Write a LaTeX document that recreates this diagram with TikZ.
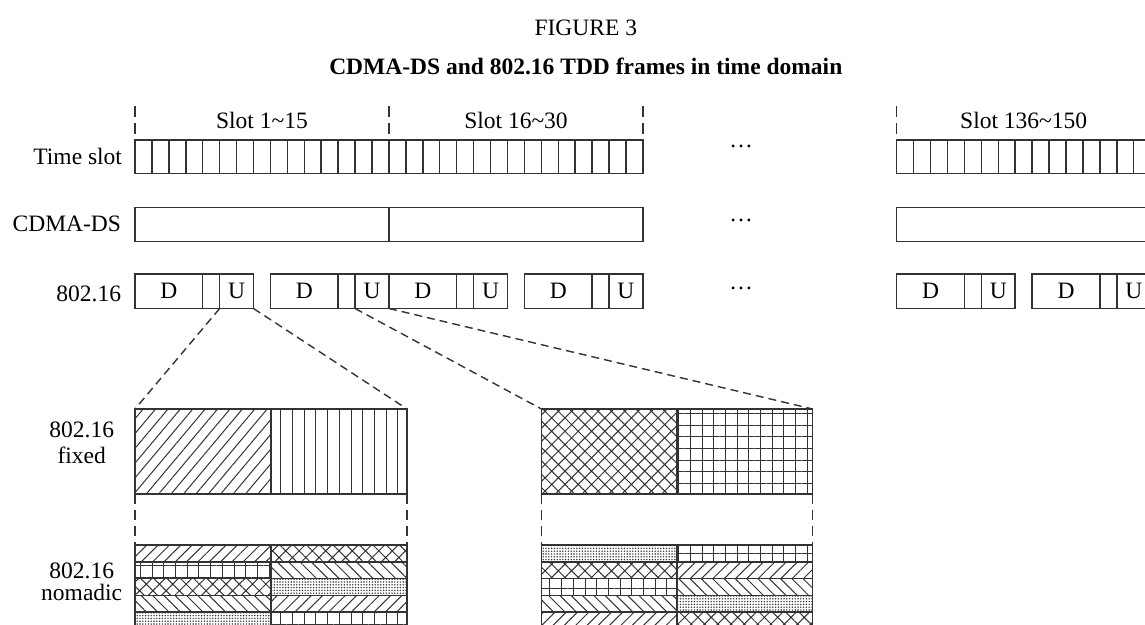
\documentclass[tikz,border=0pt]{standalone}
\usepackage{fontspec}
\setmainfont{Liberation Serif}
\usetikzlibrary{patterns.meta}
\definecolor{ink}{HTML}{333333}
\begin{document}
\begin{tikzpicture}[x=1pt,y=-1pt,
  every node/.style={font=\fontsize{23.5}{28}\selectfont, inner sep=0pt, outer sep=0pt, text=black},
  lbl/.style={anchor=base east},
  ctr/.style={anchor=base},
  boxcell/.style={draw=ink, line width=1.5pt, anchor=north west, rectangle},
  tickline/.style={draw=ink, line width=1.3pt, dash pattern=on 11pt off 6pt},
  zoomline/.style={draw=ink, line width=1.4pt, dash pattern=on 8pt off 5pt},
  vdash/.style={draw=ink, line width=1.4pt, dash pattern=on 10pt off 6pt},
  pNEf/.style={pattern={Lines[angle=50,distance=9.5pt,line width=1pt]}, pattern color=ink},
  pVL/.style={pattern={Lines[angle=90,distance=11.7pt,line width=1pt]}, pattern color=ink},
  pNE/.style={pattern={Lines[angle=45,distance=8pt,line width=1pt]}, pattern color=ink},
  pNW/.style={pattern={Lines[angle=-45,distance=8pt,line width=1pt]}, pattern color=ink},
  pGR/.style={pattern={Hatch[angle=0,distance=11.7pt,line width=1pt]}, pattern color=ink},
  pCH/.style={pattern={Hatch[angle=45,distance=9.4pt,line width=1pt]}, pattern color=ink},
  pDT/.style={pattern={Dots[distance=2.8pt,radius=0.8pt]}, pattern color=ink},
]
\useasboundingbox (0,0) rectangle (1145,624);
\clip (0,0) rectangle (1145,624);

% titles
\node[ctr] (t1) at (585.8,35) {FIGURE 3};
\node[ctr, font=\bfseries\fontsize{23.5}{28}\selectfont] (t2) at (585.8,74) {CDMA-DS and 802.16 TDD frames in time domain};

% row labels
\node[lbl] (lts) at (122,164) {Time slot};
\node[lbl] (lcd) at (121,231.7) {CDMA-DS};
\node[lbl] (l80) at (121,301.5) {802.16};
\node[ctr] (lf1) at (81.7,437) {802.16};
\node[ctr] (lf2) at (81.7,463) {fixed};
\node[ctr] (ln1) at (81.7,578) {802.16};
\node[ctr] (ln2) at (81.7,600) {nomadic};

% slot group labels and ticks
\node[ctr] (sl1) at (262,128) {Slot 1\textasciitilde 15};
\node[ctr] (sl2) at (516,128) {Slot 16\textasciitilde 30};
\node[ctr] (sl3) at (1023.7,128) {Slot 136\textasciitilde 150};
\foreach \x in {135,388.95,642.9,896.7}
  \draw[tickline] (\x,106) -- (\x,135);

% time slots
\foreach \g/\x in {0/135,1/388.95,2/896.7}{
  \foreach \i in {0,...,14}{
    \node[boxcell, minimum width=16.93pt, minimum height=33.5pt] (ts-\g-\i) at ({\x+\i*16.93},140) {};
  }
}

% CDMA-DS
\node[boxcell, minimum width=253.95pt, minimum height=34pt] (cd1) at (135,207.3) {};
\node[boxcell, minimum width=253.95pt, minimum height=34pt] (cd2) at (388.95,207.3) {};
\node[boxcell, minimum width=253.95pt, minimum height=34pt] (cd3) at (896.7,207.3) {};

% 802.16 frames
\foreach \g/\x in {0/135,1/388.95,2/896.7}{
  \foreach \f in {0,1}{
    \node[boxcell, minimum width=67.72pt, minimum height=34.5pt] (d-\g-\f) at ({\x+\f*8*16.93},274) {D};
    \node[boxcell, minimum width=16.93pt, minimum height=34.5pt] (g-\g-\f) at ({\x+\f*8*16.93+4*16.93},274) {};
    \node[boxcell, minimum width=33.86pt, minimum height=34.5pt] (u-\g-\f) at ({\x+\f*8*16.93+5*16.93},274) {U};
  }
}

% ellipses
\node (el1) at (741,146.7) {\textellipsis};
\node (el2) at (741,220.7) {\textellipsis};
\node (el3) at (741,288.3) {\textellipsis};

% 802.16 fixed
\node[boxcell, pNEf, minimum width=136pt, minimum height=85pt] (f1l) at (135,409) {};
\node[boxcell, pVL, minimum width=136pt, minimum height=85pt] (f1r) at (271,409) {};
\node[boxcell, pCH, minimum width=135.6pt, minimum height=85pt] (f2l) at (541.5,409) {};
\node[boxcell, pGR, minimum width=135.6pt, minimum height=85pt] (f2r) at (677.1,409) {};

% 802.16 nomadic
\foreach \r/\pl/\pr/\ql/\qr in {1/pNE/pCH/pDT/pGR, 2/pGR/pNW/pCH/pNE, 3/pCH/pDT/pGR/pNW, 4/pNW/pNE/pNW/pDT, 5/pDT/pGR/pNE/pCH}{
  \node[boxcell, \pl, minimum width=136pt, minimum height=16.75pt] (na-l-\r) at (135,{545+(\r-1)*16.75}) {};
  \node[boxcell, \pr, minimum width=136pt, minimum height=16.75pt] (na-r-\r) at (271,{545+(\r-1)*16.75}) {};
  \node[boxcell, \ql, minimum width=135.6pt, minimum height=16.75pt] (nb-l-\r) at (541.5,{545+(\r-1)*16.75}) {};
  \node[boxcell, \qr, minimum width=135.6pt, minimum height=16.75pt] (nb-r-\r) at (677.1,{545+(\r-1)*16.75}) {};
}

% zoom connectors
\draw[zoomline] (u-0-0.south west) -- (f1l.north west);
\draw[zoomline] (u-0-0.south east) -- (f1r.north east);
\draw[zoomline] (u-0-1.south west) -- (f2l.north west);
\draw[zoomline] (u-0-1.south east) -- (f2r.north east);
\draw[vdash] (f1l.south west) -- (na-l-1.north west);
\draw[vdash] (f1r.south east) -- (na-r-1.north east);
\draw[vdash] (f2l.south west) -- (nb-l-1.north west);
\draw[vdash] (f2r.south east) -- (nb-r-1.north east);
\end{tikzpicture}
\end{document}
